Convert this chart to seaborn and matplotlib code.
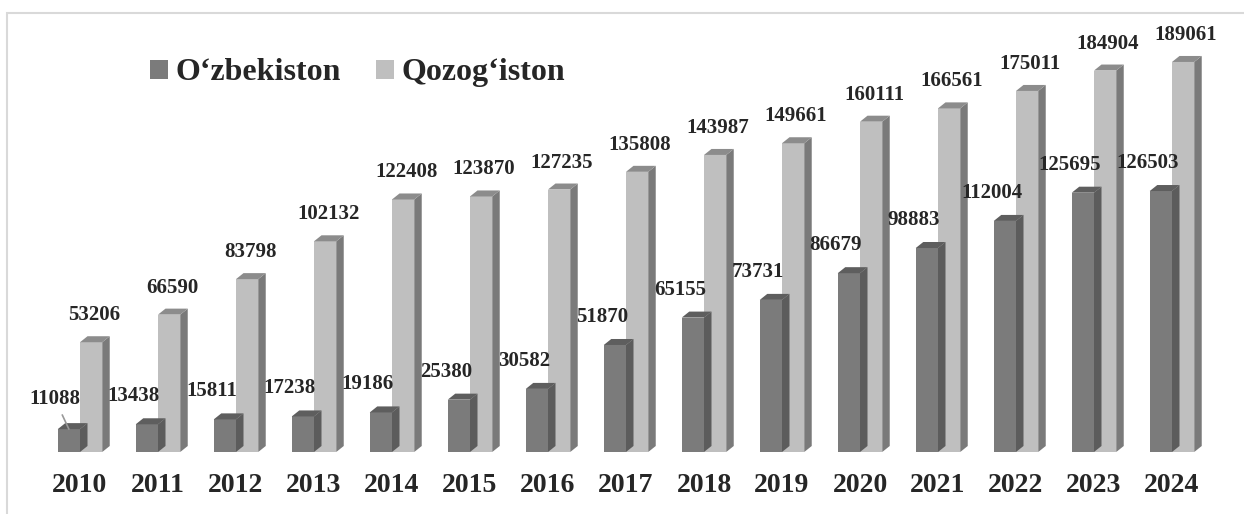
import seaborn as sns
import matplotlib.pyplot as plt
import pandas as pd
from matplotlib.patches import Polygon, Rectangle

years = ['2010', '2011', '2012', '2013', '2014', '2015', '2016', '2017',
         '2018', '2019', '2020', '2021', '2022', '2023', '2024']
uzb = [11088, 13438, 15811, 17238, 19186, 25380, 30582, 51870,
       65155, 73731, 86679, 98883, 112004, 125695, 126503]
kaz = [53206, 66590, 83798, 102132, 122408, 123870, 127235, 135808,
       143987, 149661, 160111, 166561, 175011, 184904, 189061]
series = ['O‘zbekiston', 'Qozog‘iston']

df = pd.DataFrame({
    'yil': years * 2,
    'davlat': [series[0]] * len(years) + [series[1]] * len(years),
    'qiymat': uzb + kaz,
})

front = {series[0]: '#7b7b7b', series[1]: '#bfbfbf'}
side = {series[0]: '#5c5c5c', series[1]: '#7a7a7a'}
top = {series[0]: '#5e5e5e', series[1]: '#8c8c8c'}

sns.set_style('white')
plt.rcParams['font.family'] = ['Liberation Serif', 'DejaVu Serif']
plt.rcParams['font.weight'] = 'bold'

W, H = 1244, 514
fig = plt.figure(figsize=(W / 100, H / 100), dpi=100)
# axes: category 0 at x=80px, 78px per category, baseline at y=452px
ax = fig.add_axes([(80 - 0.9 * 78) / W, 62 / H, 15.8 * 78 / W, 412.6 / H])

sns.barplot(data=df, x='yil', y='qiymat', hue='davlat', hue_order=series,
            palette=front, width=0.57, gap=0, saturation=1, ax=ax,
            legend=False, linewidth=0)
ax.set_xlim(-0.9, 14.9)
ax.set_ylim(0, 200000)

# 3D depth (in data units): ~7.5px right, ~6px up
dx = 7.5 / 78
dy = 6 / (412.6 / 200000)

for cont, name, vals in zip(ax.containers, series, [uzb, kaz]):
    for bar, v in zip(cont, vals):
        x0 = bar.get_x()
        x1 = x0 + bar.get_width()
        h = bar.get_height()
        ax.add_patch(Polygon([(x1, 0), (x1 + dx, dy), (x1 + dx, h + dy), (x1, h)],
                             closed=True, facecolor=side[name], edgecolor='none'))
        ax.add_patch(Polygon([(x0, h), (x0 + dx, h + dy), (x1 + dx, h + dy), (x1, h)],
                             closed=True, facecolor=top[name], edgecolor='none'))

# value labels
for i, bar in enumerate(ax.containers[0]):
    cx = bar.get_x() + bar.get_width() / 2
    h = bar.get_height()
    if i == 0:
        ax.annotate(f'{uzb[i]}', xy=(cx, h), xytext=(-14, 20), textcoords='offset pixels',
                    ha='center', va='bottom', fontsize=15, fontweight='bold',
                    arrowprops=dict(arrowstyle='-', color='#999999', lw=1.2,
                                    shrinkA=2, shrinkB=0))
    else:
        ax.annotate(f'{uzb[i]}', xy=(cx, h), xytext=(-13, 18), textcoords='offset pixels',
                    ha='center', va='bottom', fontsize=15, fontweight='bold')

for i, bar in enumerate(ax.containers[1]):
    cx = bar.get_x() + bar.get_width() / 2
    h = bar.get_height()
    ax.annotate(f'{kaz[i]}', xy=(cx, h), xytext=(3, 17), textcoords='offset pixels',
                ha='center', va='bottom', fontsize=15, fontweight='bold')

ax.set_xlabel('')
ax.set_ylabel('')
ax.set_yticks([])
ax.tick_params(axis='x', length=0, pad=15, labelsize=20)
for t in ax.get_xticklabels():
    t.set_fontweight('bold')
sns.despine(ax=ax, left=True, bottom=True)

# legend
handles = [Rectangle((0, 0), 1, 1, facecolor=front[s], edgecolor='none') for s in series]
fig.legend(handles, series, loc='center left', bbox_to_anchor=(150 / W, 1 - 73 / H),
           ncol=2, frameon=False, borderpad=0, borderaxespad=0,
           handlelength=0.55, handleheight=0.55, handletextpad=0.25, columnspacing=1.1,
           prop={'size': 23, 'weight': 'bold'})

# light gray outer frame (cropped on the right and bottom)
fig.add_artist(Rectangle((7 / W, -0.05), 1.1, 1 - 13 / H + 0.05, transform=fig.transFigure,
                         fill=False, edgecolor='#d9d9d9', linewidth=1.5))

fig.savefig('out.png', dpi=100)
